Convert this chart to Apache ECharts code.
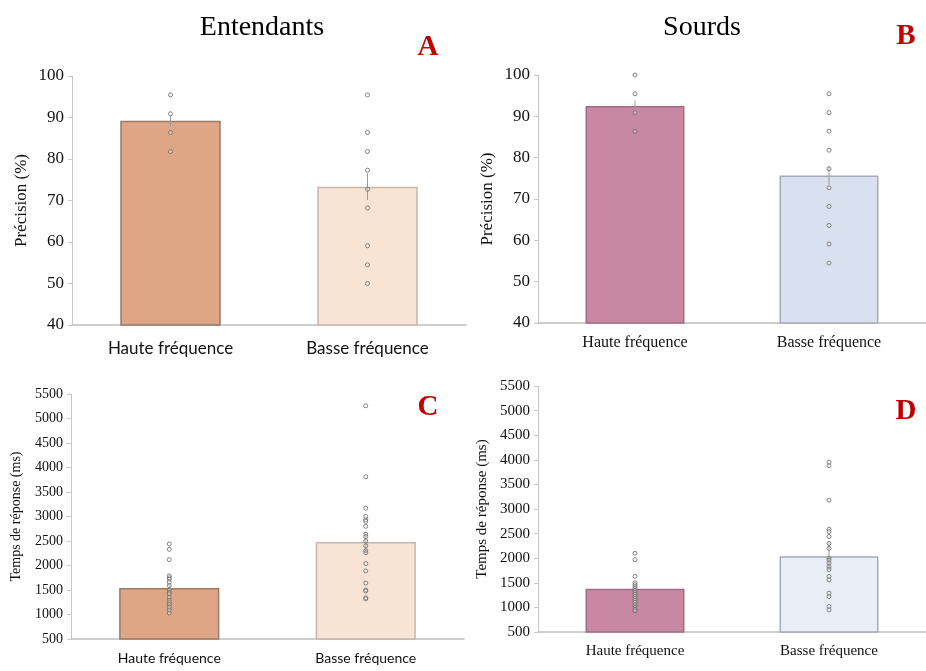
<!DOCTYPE html>
<html>
<head>
<meta charset="utf-8">
<script src="https://cdn.jsdelivr.net/npm/echarts@6/dist/echarts.min.js"></script>
<style>html,body{margin:0;padding:0;background:#fff}#c{width:926px;height:671px}</style>
</head>
<body>
<div id="c"></div>
<script>
const categories = ['Haute fréquence', 'Basse fréquence'];
const precisionTicks = [40, 50, 60, 70, 80, 90, 100];
const tempsTicks = [500, 1000, 1500, 2000, 2500, 3000, 3500, 4000, 4500, 5000, 5500];

// Panel A – Entendants, précision
const precisionEntendants = [89.2, 73.3];
const precisionEntendantsErr = [1.3, 3.2];
const ptsA_haute = [95.45, 90.9, 86.4, 81.8];
const ptsA_basse = [95.45, 86.4, 81.8, 77.3, 72.7, 68.2, 59.1, 54.5, 50.0];

// Panel B – Sourds, précision
const precisionSourds = [92.5, 75.7];
const precisionSourdsErr = [1.3, 2.2];
const ptsB_haute = [100, 95.45, 90.9, 86.4];
const ptsB_basse = [95.45, 90.9, 86.4, 81.8, 77.3, 72.7, 68.2, 63.6, 59.1, 54.5];

// Panel C – Entendants, temps de réponse
const tempsEntendants = [1541, 2480];
const tempsEntendantsErr = [100, 200];
const ptsC_haute = [2440, 2330, 2120, 1790, 1750, 1720, 1660, 1590, 1500, 1450, 1420, 1350, 1290, 1240, 1200, 1150, 1090, 1030];
const ptsC_basse = [5260, 3810, 3170, 3000, 2930, 2900, 2800, 2640, 2590, 2500, 2400, 2300, 2260, 2040, 1890, 1640, 1500, 1480, 1340, 1320];

// Panel D – Sourds, temps de réponse
const tempsSourds = [1379, 2042];
const tempsSourdsErr = [80, 290];
const ptsD_haute = [2100, 1970, 1630, 1500, 1460, 1420, 1380, 1340, 1300, 1260, 1220, 1180, 1140, 1100, 1050, 1000, 960, 930];
const ptsD_basse = [3950, 3880, 3180, 2590, 2540, 2440, 2300, 2200, 2000, 1960, 1900, 1830, 1770, 1630, 1560, 1290, 1220, 1020, 950];

const SERIF = '"Liberation Serif", "DejaVu Serif", serif';
const SANS = 'Lato, "Liberation Sans", sans-serif';

const panels = [
  { grid: {left: 72, top: 76, width: 394, height: 249}, values: precisionEntendants, err: precisionEntendantsErr,
    pts: [ptsA_haute, ptsA_basse], ticks: precisionTicks, interval: 10, name: 'Précision (%)',
    colors: [['#dfa686', '#9a7a68'], ['#f8e3d4', '#c4b7ae']], xFont: SANS, xSize: 17, ySize: 17, nameSize: 17, nameGap: 42, xMargin: 15 },
  { grid: {left: 538, top: 75, width: 392, height: 248}, values: precisionSourds, err: precisionSourdsErr,
    pts: [ptsB_haute, ptsB_basse], ticks: precisionTicks, interval: 10, name: 'Précision (%)',
    colors: [['#c887a2', '#a06c84'], ['#d9e0f0', '#a6aab6']], xFont: SERIF, xSize: 16, ySize: 17, nameSize: 17, nameGap: 42, xMargin: 12 },
  { grid: {left: 71, top: 394, width: 393, height: 245}, values: tempsEntendants, err: tempsEntendantsErr,
    pts: [ptsC_haute, ptsC_basse], ticks: tempsTicks, interval: 500, name: 'Temps de réponse (ms)',
    colors: [['#dfa686', '#9a7a68'], ['#f8e3d4', '#c4b7ae']], xFont: SANS, xSize: 14, ySize: 14, nameSize: 14, nameGap: 48, xMargin: 12 },
  { grid: {left: 538, top: 386, width: 392, height: 246}, values: tempsSourds, err: tempsSourdsErr,
    pts: [ptsD_haute, ptsD_basse], ticks: tempsTicks, interval: 500, name: 'Temps de réponse (ms)',
    colors: [['#c887a2', '#a06c84'], ['#e9eef7', '#a6aab6']], xFont: SERIF, xSize: 15, ySize: 15, nameSize: 15, nameGap: 48, xMargin: 12 }
];

const grid = [], xAxis = [], yAxis = [], series = [];
panels.forEach((p, i) => {
  grid.push(Object.assign({containLabel: false}, p.grid));
  xAxis.push({
    type: 'category', gridIndex: i, data: categories,
    axisLine: {lineStyle: {color: '#bfbfbf', width: 1.5}},
    axisTick: {show: false},
    axisLabel: {color: '#111', fontFamily: p.xFont, fontSize: p.xSize, margin: p.xMargin}
  });
  yAxis.push({
    type: 'value', gridIndex: i, min: p.ticks[0], max: p.ticks[p.ticks.length - 1], interval: p.interval,
    name: p.name, nameLocation: 'middle', nameGap: p.nameGap, nameRotate: 90,
    nameTextStyle: {color: '#111', fontFamily: SERIF, fontSize: p.nameSize},
    axisLine: {show: true, lineStyle: {color: '#c8c8c8', width: 1}},
    axisTick: {show: true, length: 4, lineStyle: {color: '#c8c8c8'}},
    axisLabel: {color: '#111', fontFamily: SERIF, fontSize: p.ySize, margin: 8, formatter: v => String(v)},
    splitLine: {show: false}
  });
  series.push({
    type: 'bar', xAxisIndex: i, yAxisIndex: i, barWidth: '51%',
    data: p.values.map((v, k) => ({value: v, itemStyle: {color: p.colors[k][0], borderColor: p.colors[k][1], borderWidth: 1.5}})),
    silent: true, z: 2
  });
  series.push({
    type: 'custom', xAxisIndex: i, yAxisIndex: i, z: 3, silent: true,
    data: p.values.map((v, k) => [k, v - p.err[k], v + p.err[k]]),
    encode: {x: 0, y: [1, 2]},
    renderItem: function (params, api) {
      const a = api.coord([api.value(0), api.value(1)]);
      const b = api.coord([api.value(0), api.value(2)]);
      return {type: 'line', shape: {x1: a[0], y1: a[1], x2: b[0], y2: b[1]}, style: {stroke: '#9a9a9a', lineWidth: 1}};
    }
  });
  p.pts.forEach((arr, k) => {
    series.push({
      type: 'scatter', xAxisIndex: i, yAxisIndex: i, z: 4, silent: true,
      symbol: 'circle', symbolSize: 4,
      itemStyle: {color: 'rgba(255,255,255,0.35)', borderColor: '#6f6f6f', borderWidth: 1, opacity: 0.85},
      data: arr.map(v => [k, v])
    });
  });
});

const graphic = [
  {type: 'text', x: 262, y: 28, style: {text: 'Entendants', font: '28px ' + SERIF, fill: '#000', textAlign: 'center', textVerticalAlign: 'middle'}},
  {type: 'text', x: 702, y: 28, style: {text: 'Sourds', font: '28px ' + SERIF, fill: '#000', textAlign: 'center', textVerticalAlign: 'middle'}},
  {type: 'text', x: 428, y: 48, style: {text: 'A', font: 'bold 29px ' + SERIF, fill: '#c00000', textAlign: 'center', textVerticalAlign: 'middle'}},
  {type: 'text', x: 906, y: 37, style: {text: 'B', font: 'bold 29px ' + SERIF, fill: '#c00000', textAlign: 'center', textVerticalAlign: 'middle'}},
  {type: 'text', x: 428, y: 408, style: {text: 'C', font: 'bold 29px ' + SERIF, fill: '#c00000', textAlign: 'center', textVerticalAlign: 'middle'}},
  {type: 'text', x: 906, y: 412, style: {text: 'D', font: 'bold 29px ' + SERIF, fill: '#c00000', textAlign: 'center', textVerticalAlign: 'middle'}}
];

const chart = echarts.init(document.getElementById('c'), null, {renderer: 'canvas'});
chart.setOption({animation: false, backgroundColor: '#fff', grid, xAxis, yAxis, series, graphic});
</script>
</body>
</html>
